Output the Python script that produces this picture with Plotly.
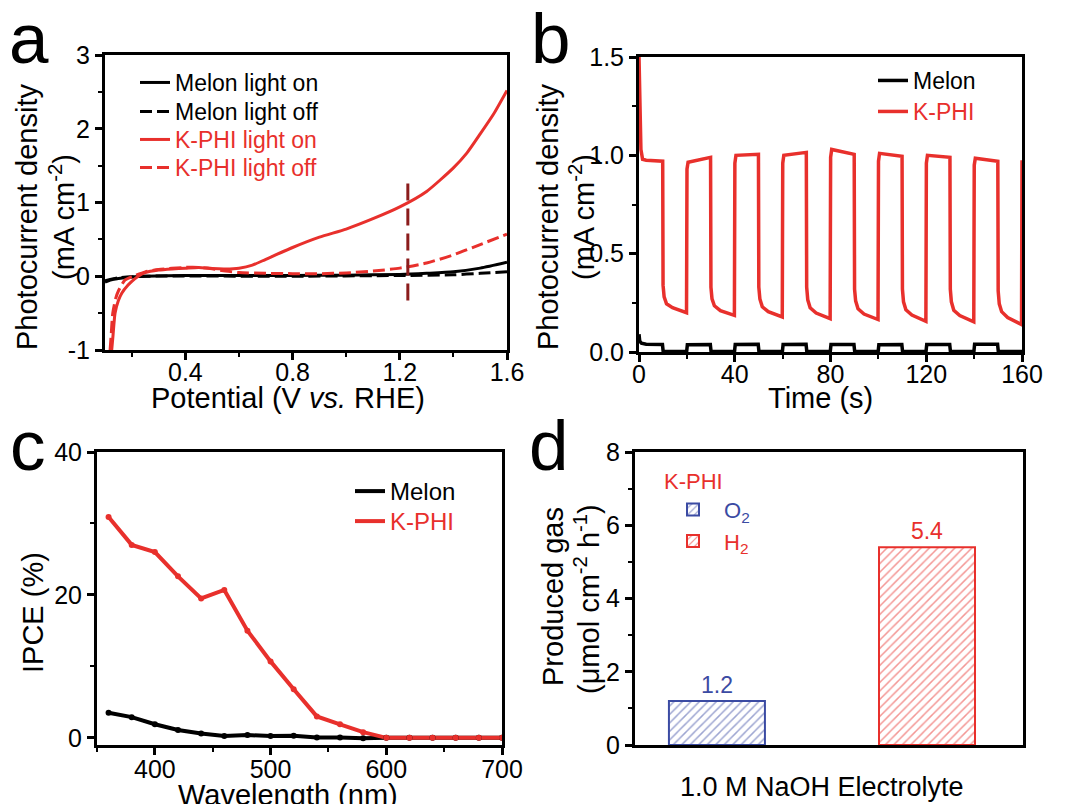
import plotly.graph_objects as go

FONT = "Liberation Sans, Arial, sans-serif"
RED = "#e8302c"
BLUE = "#3b4ba3"
DARKRED = "#8b1c1c"
BLACK = "#000000"

# ---------------- panel a : LSV ----------------
melon_on_V = [0.10, 0.12, 0.15, 0.20, 0.25, 0.40, 0.80, 1.00, 1.20, 1.30, 1.40, 1.50, 1.60]
melon_on_J = [-0.08, -0.05, -0.03, -0.01, 0.0, 0.01, 0.01, 0.015, 0.025, 0.04, 0.06, 0.11, 0.19]
melon_off_V = [0.10, 0.15, 0.25, 0.80, 1.20, 1.40, 1.50, 1.60]
melon_off_J = [-0.06, -0.02, 0.0, 0.0, 0.01, 0.02, 0.04, 0.06]
kphi_on_V = [0.125, 0.13, 0.1375, 0.15, 0.1625, 0.186, 0.20, 0.224, 0.25, 0.30, 0.35, 0.40, 0.45,
             0.50, 0.55, 0.60, 0.65, 0.70, 0.80, 0.90, 1.00, 1.10, 1.20, 1.30, 1.40, 1.45, 1.50, 1.55, 1.60]
kphi_on_J = [-1.0, -0.8, -0.5, -0.33, -0.23, -0.12, -0.07, 0.0, 0.05, 0.085, 0.10, 0.11, 0.12,
             0.105, 0.10, 0.11, 0.15, 0.23, 0.39, 0.53, 0.64, 0.78, 0.94, 1.15, 1.47, 1.67, 1.93, 2.20, 2.52]
kphi_off_V = [0.119, 0.123, 0.129, 0.14, 0.15, 0.175, 0.205, 0.25, 0.30, 0.40, 0.45, 0.50, 0.55, 0.60,
              0.70, 0.80, 0.90, 1.00, 1.10, 1.20, 1.30, 1.40, 1.50, 1.60]
kphi_off_J = [-1.0, -0.8, -0.5, -0.3, -0.2, -0.05, 0.0, 0.06, 0.09, 0.12, 0.12, 0.10, 0.07, 0.05,
              0.04, 0.035, 0.035, 0.045, 0.07, 0.11, 0.18, 0.29, 0.43, 0.57]
ref_V = [1.23, 1.23]
ref_J = [-0.33, 1.33]
a_ytickvals = [-1, 0, 1, 2, 3]
a_yticktext = ["-1", "0", "1", "2", "3"]

# ---------------- panel b : chopped i-t ----------------
kphi_t = [0, 0.3, 0.8, 1.5, 3, 9.9,
          10.05, 10.5, 11.5, 14, 19.85, 20.05, 20.5, 29.9,
          30.05, 30.5, 31.5, 34, 39.85, 40.05, 40.5, 49.9,
          50.05, 50.5, 51.5, 54, 59.85, 60.05, 60.5, 69.9,
          70.05, 70.5, 71.5, 74, 79.85, 80.05, 80.5, 89.9,
          90.05, 90.5, 91.5, 94, 99.85, 100.05, 100.5, 109.9,
          110.05, 110.5, 111.5, 114, 119.85, 120.05, 120.5, 129.9,
          130.05, 130.5, 131.5, 134, 139.85, 140.05, 140.5, 149.9,
          150.05, 150.5, 151.5, 154, 159.8, 160.0]
kphi_j = [1.50, 1.20, 1.03, 0.98, 0.975, 0.97,
          0.34, 0.28, 0.245, 0.225, 0.20, 0.93, 0.965, 0.99,
          0.33, 0.27, 0.235, 0.21, 0.186, 0.96, 1.0, 1.005,
          0.33, 0.27, 0.23, 0.205, 0.178, 0.96, 1.0, 1.015,
          0.33, 0.265, 0.225, 0.198, 0.17, 0.99, 1.03, 1.005,
          0.32, 0.26, 0.22, 0.193, 0.165, 0.97, 1.01, 0.995,
          0.32, 0.255, 0.215, 0.188, 0.156, 0.96, 1.0, 0.99,
          0.32, 0.255, 0.212, 0.185, 0.153, 0.95, 0.985, 0.97,
          0.31, 0.245, 0.205, 0.175, 0.14, 0.975]
melon_t = [0, 0.3, 1, 3, 9.8, 10.1, 19.9, 20.2, 29.8, 30.1, 39.9, 40.2, 49.8, 50.1, 59.9, 60.2,
           69.8, 70.1, 79.9, 80.2, 89.8, 90.1, 99.9, 100.2, 109.8, 110.1, 119.9, 120.2, 129.8, 130.1,
           139.9, 140.2, 149.8, 150.1, 160]
melon_j = [0.09, 0.055, 0.045, 0.04, 0.038, 0.003, 0.002, 0.037, 0.038, 0.003, 0.002, 0.038,
           0.039, 0.003, 0.002, 0.038, 0.039, 0.003, 0.002, 0.038, 0.038, 0.003, 0.002, 0.037,
           0.038, 0.003, 0.002, 0.038, 0.038, 0.003, 0.002, 0.039, 0.039, 0.003, 0.002]

# ---------------- panel c : IPCE ----------------
wavelength = [360, 380, 400, 420, 440, 460, 480, 500, 520, 540, 560, 580, 600, 620, 640, 660, 680, 700]
ipce_kphi = [30.9, 27.0, 26.0, 22.6, 19.5, 20.7, 15.0, 10.7, 6.8, 3.0, 1.9, 0.8, 0, 0, 0, 0, 0, 0]
ipce_melon = [3.5, 2.9, 1.9, 1.1, 0.6, 0.25, 0.4, 0.25, 0.3, 0.05, 0.05, -0.05, 0, 0, 0, 0, 0, 0]

# ---------------- panel d : gas evolution ----------------
gas_names = ["O<sub>2</sub>", "H<sub>2</sub>"]
gas_values = [1.2, 5.4]
gas_colors = [BLUE, RED]

W, H = 1070, 804


def red(s):
    return "<span style='color:%s'>%s</span>" % (RED, s)


fig = go.Figure()

# panel a traces (one single-item legend per entry so rows sit where the reference has them)
fig.add_trace(go.Scatter(x=melon_on_V, y=melon_on_J, mode="lines", name="Melon light on",
                         line=dict(color=BLACK, width=3, shape="spline", smoothing=0.6),
                         xaxis="x", yaxis="y", legend="legend"))
fig.add_trace(go.Scatter(x=melon_off_V, y=melon_off_J, mode="lines", name="Melon light off",
                         line=dict(color=BLACK, width=3, dash="12px,5px", shape="spline", smoothing=0.6),
                         xaxis="x", yaxis="y", legend="legend2"))
fig.add_trace(go.Scatter(x=kphi_on_V, y=kphi_on_J, mode="lines", name=red("K-PHI light on"),
                         line=dict(color=RED, width=3, shape="spline", smoothing=0.6),
                         xaxis="x", yaxis="y", legend="legend3"))
fig.add_trace(go.Scatter(x=kphi_off_V, y=kphi_off_J, mode="lines", name=red("K-PHI light off"),
                         line=dict(color=RED, width=3, dash="12px,5px", shape="spline", smoothing=0.6),
                         xaxis="x", yaxis="y", legend="legend4"))
fig.add_trace(go.Scatter(x=ref_V, y=ref_J, mode="lines", showlegend=False,
                         line=dict(color=DARKRED, width=3, dash="17px,8px"),
                         xaxis="x", yaxis="y"))

# panel b traces
fig.add_trace(go.Scatter(x=melon_t, y=melon_j, mode="lines", name="Melon",
                         line=dict(color=BLACK, width=3.5), xaxis="x2", yaxis="y2", legend="legend5"))
fig.add_trace(go.Scatter(x=kphi_t, y=kphi_j, mode="lines", name=red("K-PHI"),
                         line=dict(color=RED, width=3.5), xaxis="x2", yaxis="y2", legend="legend6"))

# panel c traces
fig.add_trace(go.Scatter(x=wavelength, y=ipce_melon, mode="lines", name="Melon",
                         line=dict(color=BLACK, width=4), xaxis="x3", yaxis="y3", legend="legend7"))
fig.add_trace(go.Scatter(x=wavelength, y=ipce_kphi, mode="lines", name=red("K-PHI"),
                         line=dict(color=RED, width=4), xaxis="x3", yaxis="y3", legend="legend8"))
fig.add_trace(go.Scatter(x=wavelength, y=ipce_melon, mode="markers", showlegend=False,
                         marker=dict(color=BLACK, size=6), xaxis="x3", yaxis="y3"))
fig.add_trace(go.Scatter(x=wavelength, y=ipce_kphi, mode="markers", showlegend=False,
                         marker=dict(color=RED, size=6), xaxis="x3", yaxis="y3"))

# panel d traces
for nm, val, col in zip(gas_names, gas_values, gas_colors):
    fig.add_trace(go.Bar(x=[nm], y=[val], width=0.457,
                         name="<span style='color:%s'>%s</span>" % (col, nm),
                         marker=dict(color="white", line=dict(color=col, width=2),
                                     pattern=dict(shape="/", fgcolor=col, bgcolor="white",
                                                  size=6, solidity=0.25)),
                         text=["%.1f" % val], textposition="outside", cliponaxis=False,
                         textfont=dict(color=col, size=23, family=FONT),
                         xaxis="x4", yaxis="y4", legend="legend9"))


def axis_style(**kw):
    d = dict(showline=True, linecolor="black", linewidth=3, mirror=True, automargin=False,
             ticks="outside", ticklen=7, tickwidth=2.5, tickcolor="black",
             showgrid=False, zeroline=False,
             tickfont=dict(size=25, color="black", family=FONT))
    d.update(kw)
    return d


def minor(dt, t0=0):
    return dict(ticks="outside", ticklen=4, tickwidth=2, tickcolor="black", dtick=dt, tick0=t0, showgrid=False)


def px_x(a, b):
    return [a / W, b / W]


def px_y(top, bot):
    return [1 - bot / H, 1 - top / H]


def leg(x, top, size=23, **kw):
    d = dict(x=x / W, y=1 - top / H, xanchor="left", yanchor="top", bgcolor="rgba(0,0,0,0)",
             font=dict(size=size, color="black", family=FONT), tracegroupgap=0)
    d.update(kw)
    return d


fig.update_layout(
    width=W, height=H, margin=dict(l=0, r=0, t=0, b=0, autoexpand=False),
    paper_bgcolor="white", plot_bgcolor="white",
    font=dict(family=FONT, color="black"),
    barmode="overlay",
    xaxis=axis_style(domain=px_x(105, 507), anchor="y", range=[0.1, 1.6], dtick=0.4, tick0=0,
                     ticklabelstandoff=-9, minor=minor(0.2)),
    yaxis=axis_style(domain=px_y(55, 350), anchor="x", range=[-1, 3], tickmode="array",
                     tickvals=a_ytickvals, ticktext=a_yticktext, minor=minor(0.5, 0.5)),
    xaxis2=axis_style(domain=px_x(639, 1022), anchor="y2", range=[0, 160], dtick=40,
                      ticklabelstandoff=-9, minor=minor(20)),
    yaxis2=axis_style(domain=px_y(57, 352), anchor="x2", range=[0, 1.5], dtick=0.5, tickformat=".1f",
                      minor=minor(0.25)),
    xaxis3=axis_style(domain=px_x(97, 502), anchor="y3", range=[350, 700], dtick=100, tick0=0,
                      ticklabelstandoff=-7, minor=minor(50)),
    yaxis3=axis_style(domain=px_y(452, 745), anchor="x3", range=[-1, 40], dtick=20, minor=minor(10)),
    xaxis4=axis_style(domain=px_x(635, 1023), anchor="y4", range=[-0.39, 1.457], ticks="",
                      showticklabels=False),
    yaxis4=axis_style(domain=px_y(452, 745), anchor="x4", range=[0, 8], dtick=2, minor=minor(1)),
    legend=leg(135, 61),
    legend2=leg(135, 90),
    legend3=leg(135, 118),
    legend4=leg(135, 146),
    legend5=leg(873, 59),
    legend6=leg(873, 90),
    legend7=leg(350, 469, size=24),
    legend8=leg(350, 499, size=24),
    legend9=leg(662, 460, size=22, itemwidth=52,
                title=dict(text="K-PHI", font=dict(size=22, color=RED, family=FONT), side="top")),
)


def label(text, cx, cy, size=29, angle=0):
    fig.add_annotation(text=text, x=cx / W, y=1 - cy / H, xref="paper", yref="paper",
                       xanchor="center", yanchor="middle", showarrow=False, textangle=angle,
                       font=dict(size=size, color="black", family=FONT))


# axis titles
label("Potential (V <i>vs.</i> RHE)", 288, 398)
label("Time (s)", 820, 398)
label("Wavelength (nm)", 288, 795)
label("1.0 M NaOH Electrolyte", 822, 787, size=27)
label("Photocurrent density", 27, 217, angle=-90)
label("(mA cm<sup>-2</sup>)", 62, 217, angle=-90)
label("Photocurrent density", 548, 217, angle=-90)
label("(mA cm<sup>-2</sup>)", 582, 217, angle=-90)
label("IPCE (%)", 33, 613, angle=-90)
label("Produced gas", 553, 597, angle=-90)
label("(μmol cm<sup>-2</sup> h<sup>-1</sup>)", 587, 599, angle=-90)

# panel letters
letters = [("a", 7, 80), ("b", 529, 80), ("c", 8, 487), ("d", 527, 487)]
for txt, lx, ly in letters:
    fig.add_annotation(text=txt, x=lx / W, y=1 - ly / H, xref="paper", yref="paper",
                       xanchor="left", yanchor="bottom", showarrow=False,
                       font=dict(size=71, color="black", family=FONT))

fig.write_html("out.html", config={"displayModeBar": False},
               post_script="document.body.style.margin='0px';document.body.style.overflow='hidden';")
